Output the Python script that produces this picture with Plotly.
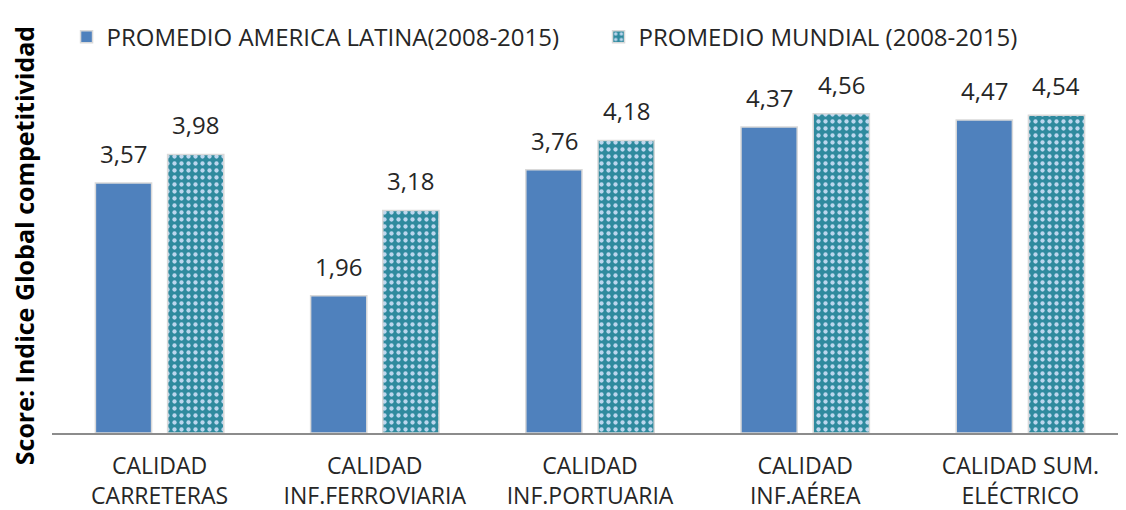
import plotly.graph_objects as go

categories = ["CALIDAD<br>CARRETERAS", "CALIDAD<br>INF.FERROVIARIA", "CALIDAD<br>INF.PORTUARIA",
              "CALIDAD<br>INF.AÉREA", "CALIDAD SUM.<br>ELÉCTRICO"]
latam = [3.57, 1.96, 3.76, 4.37, 4.47]
mundial = [3.98, 3.18, 4.18, 4.56, 4.54]
series_names = ["PROMEDIO AMERICA LATINA(2008-2015)", "PROMEDIO MUNDIAL (2008-2015)"]
y_title = "Score: Indice Global competitividad"

FONT = "Open Sans"
TXT = "#262626"

fig = go.Figure()
fig.add_trace(go.Bar(
    x=categories, y=latam, name=series_names[0],
    marker=dict(color="#4f81bd", line=dict(color="#d9d9d9", width=1.5)),
))
fig.add_trace(go.Bar(
    x=categories, y=mundial, name=series_names[1],
    marker=dict(color="#2f8a9e", line=dict(color="#d9d9d9", width=1.5),
                pattern=dict(shape=".", fgcolor="#bcd6ee", bgcolor="#2f8a9e",
                             size=7, solidity=0.3, fillmode="replace")),
))

# value labels above bars
for vals, xs in ((latam, -36), (mundial, 36)):
    for c, v in zip(categories, vals):
        fig.add_annotation(x=c, y=v, xref="x", yref="y", text=f"{v:.2f}".replace(".", ","),
                           showarrow=False, xshift=xs, yshift=11, yanchor="bottom",
                           font=dict(size=24, family=FONT, color=TXT))

# y-axis title
fig.add_annotation(text=f"<b>{y_title}</b>", xref="paper", yref="paper",
                   x=-0.0265, y=0.535, textangle=-90, showarrow=False,
                   xanchor="center", yanchor="middle", borderpad=0,
                   font=dict(size=25, family=FONT, color="#000000"))

fig.update_layout(
    width=1126, height=510,
    margin=dict(l=44, r=6, t=74.5, b=84.5),
    paper_bgcolor="white", plot_bgcolor="white",
    barmode="group", bargap=0.329, bargroupgap=0.222,
    separators=",.",
    font=dict(family=FONT, color=TXT, size=23),
    showlegend=True,
    legend=dict(orientation="h", xref="container", yref="container",
                x=0.052, y=0.943, xanchor="left", yanchor="middle",
                font=dict(size=24, family=FONT, color=TXT), itemwidth=30,
                traceorder="normal", entrywidthmode="pixels", entrywidth=487),
    xaxis=dict(showline=True, linecolor="#8c8c8c", linewidth=2, ticks="",
               automargin=False, ticklabelstandoff=11,
               tickfont=dict(size=23, family=FONT, color=TXT)),
    yaxis=dict(range=[0, 5], showgrid=False, showticklabels=False, zeroline=False,
               automargin=False),
)

fig.write_html("out.html")
